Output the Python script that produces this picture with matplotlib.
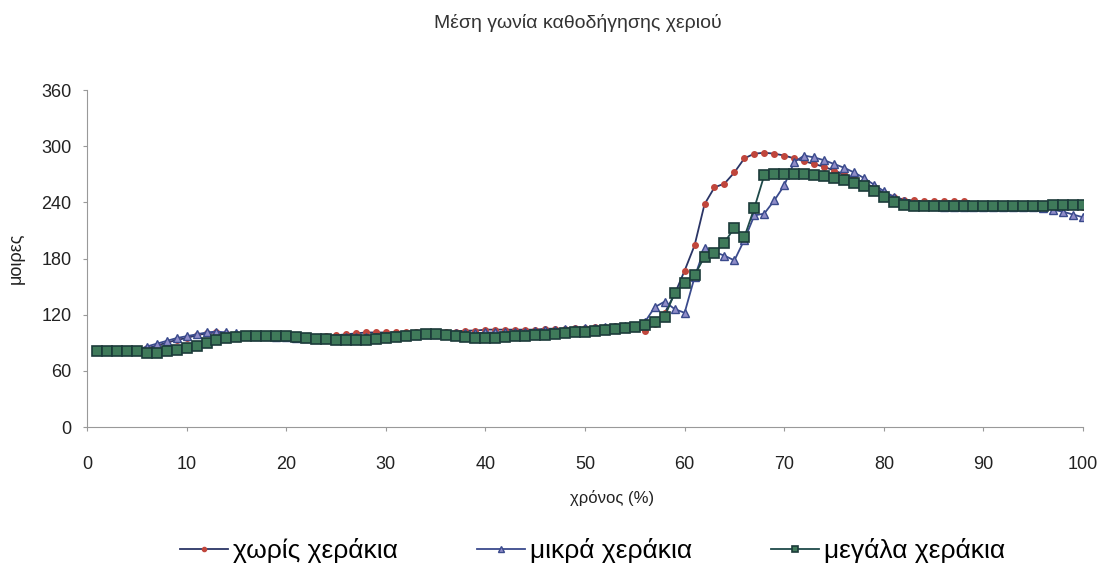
import numpy as np
import matplotlib.pyplot as plt

# time axis (%)
x = np.arange(1, 101)

# χωρίς χεράκια
no_hands = [82, 82, 82, 82, 82, 84, 87, 90, 93, 95,
            98, 100, 101, 100, 99, 98, 97, 97, 97, 97,
            96, 96, 96, 97, 98, 99, 100, 101, 101, 101,
            101, 102, 102, 102, 102, 102, 102, 103, 103, 104,
            104, 104, 104, 104, 104, 105, 105, 105, 106, 106,
            107, 107, 108, 108, 106, 103, 110, 122, 142, 167,
            194, 238, 256, 260, 272, 287, 292, 293, 292, 290,
            287, 284, 281, 278, 274, 270, 266, 261, 256, 250,
            246, 243, 242, 241, 241, 241, 241, 241, 238, 237,
            236, 236, 235, 235, 235, 235, 236, 236, 236, 235]

# μικρά χεράκια
small_hands = [82, 82, 82, 82, 82, 86, 89, 92, 95, 97,
               99, 101, 102, 101, 100, 98, 97, 97, 96, 96,
               95, 95, 95, 95, 95, 96, 96, 96, 96, 97,
               97, 98, 98, 99, 99, 99, 100, 100, 100, 101,
               101, 101, 102, 102, 103, 104, 104, 105, 105, 106,
               106, 107, 107, 108, 108, 112, 128, 134, 126, 122,
               160, 191, 187, 183, 178, 200, 226, 228, 242, 258,
               283, 290, 288, 285, 281, 277, 272, 266, 259, 252,
               246, 241, 238, 237, 236, 235, 235, 235, 235, 235,
               235, 235, 235, 235, 235, 234, 232, 230, 227, 224]

# μεγάλα χεράκια
big_hands = [81, 81, 81, 81, 81, 79, 79, 81, 82, 84,
             87, 90, 93, 95, 96, 97, 97, 97, 97, 97,
             96, 95, 94, 94, 93, 93, 93, 93, 94, 95,
             96, 97, 98, 99, 99, 98, 97, 96, 95, 95,
             95, 96, 97, 97, 98, 98, 99, 100, 101, 102,
             103, 104, 105, 106, 107, 109, 112, 118, 143, 154,
             162, 182, 186, 197, 213, 203, 234, 269, 270, 270,
             270, 270, 269, 268, 266, 264, 261, 257, 252, 246,
             240, 237, 236, 236, 236, 236, 236, 236, 236, 236,
             236, 236, 236, 236, 236, 236, 237, 237, 237, 237]

labels = ['χωρίς χεράκια', 'μικρά χεράκια', 'μεγάλα χεράκια']

plt.rcParams['font.family'] = ['Liberation Sans', 'DejaVu Sans']

fig = plt.figure(figsize=(11.04, 5.64), dpi=100)
ax = fig.add_axes([0.0788, 0.2429, 0.9022, 0.5975])

ax.plot(x, no_hands, color='#2b3566', lw=1.3, marker='o', ms=4,
        mfc='#c0463c', mec='#c0463c', label=labels[0])
ax.plot(x, small_hands, color='#3a4a8c', lw=1.3, marker='^', ms=6,
        mfc='#8f8cc8', mec='#3a4a8c', label=labels[1])
ax.plot(x, big_hands, color='#1f4a4a', lw=1.3, marker='s', ms=6.5,
        mfc='#3f7a5a', mec='#1c3b3a', mew=1.2, label=labels[2])

ax.set_xlim(0, 100)
ax.set_ylim(0, 360)
ax.set_xticks(range(0, 101, 10))
ax.set_yticks(range(0, 361, 60))
ax.tick_params(labelsize=13, colors='#222222', length=3, color='#999999')
ax.tick_params(axis='x', pad=18)
ax.tick_params(axis='y', pad=8)
for s in ['top', 'right']:
    ax.spines[s].set_visible(False)
for s in ['left', 'bottom']:
    ax.spines[s].set_color('#999999')

ax.set_xlabel('χρόνος (%)', fontsize=12, labelpad=12, color='#222222', x=0.527)
ax.set_ylabel('μοιρες', fontsize=13, labelpad=12, color='#222222')
fig.text(0.523, 0.96, 'Μέση γωνία καθοδήγησης χεριού', ha='center', va='center',
         fontsize=14, color='#333333')

fig.legend(loc='lower center', bbox_to_anchor=(0.537, -0.04), ncol=3, frameon=False,
           fontsize=19, columnspacing=3.0, handlelength=1.8, handletextpad=0.2,
           markerscale=0.75)

fig.savefig('out.png', dpi=100)
